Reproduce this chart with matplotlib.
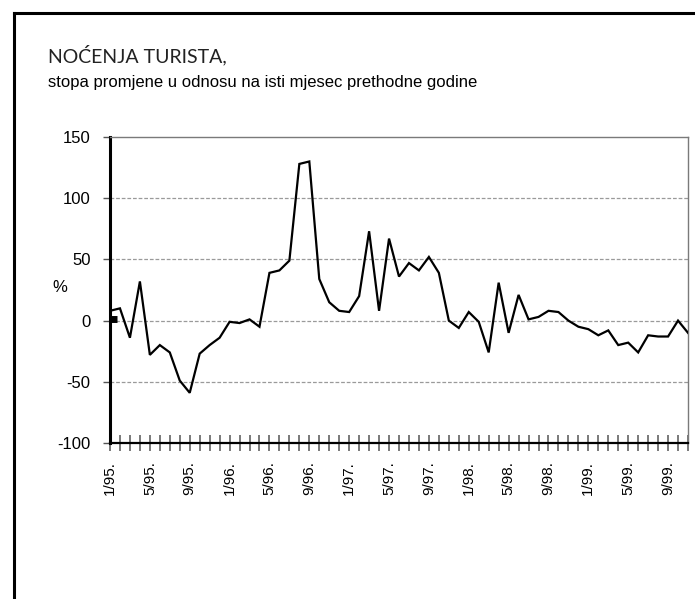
import matplotlib
matplotlib.use("Agg")
import matplotlib.pyplot as plt
from matplotlib.lines import Line2D

# --- data: monthly change vs same month of previous year, 1/95 .. 11/99 ----
months = [f"{m}/{y}." for y in range(95, 100) for m in range(1, 13)][:59]
values = [
    8, 10, -14, 32, -28, -20, -26, -49, -59, -27, -20, -14,
    -1, -2, 1, -5, 39, 41, 49, 128, 130, 34, 15, 8,
    7, 20, 73, 8, 67, 36, 47, 41, 52, 39, 0, -6,
    7, -1, -26, 31, -10, 21, 1, 3, 8, 7, 0, -5,
    -7, -12, -8, -20, -18, -26, -12, -13, -13, 0, -10,
]
label_every = 4
y_ticks = [-100, -50, 0, 50, 100, 150]
grid_levels = [-50, 0, 50, 100]

# small black block that sits on the zero line at the start of the series
blip_x = [0, 0.75]
blip_y = [1.5, 1.5]

title = "NOĆENJA TURISTA,"
subtitle = "stopa promjene u odnosu na isti mjesec prethodne godine"

plt.rcParams["font.family"] = ["Liberation Sans", "DejaVu Sans"]

fig = plt.figure(figsize=(6.95, 5.99), dpi=100)
ax = fig.add_axes([110 / 695, 1 - 443 / 599, 578 / 695, 306 / 599])

# grid lines (dashed grey) and the series
for g in grid_levels:
    ax.axhline(g, color="#9a9a9a", lw=0.9, ls=(0, (3, 1.5)), zorder=1)
x = list(range(len(values)))
ax.plot(x, values, color="black", lw=1.6, zorder=3, solid_joinstyle="miter")
ax.plot(blip_x, blip_y, color="black", lw=5, solid_capstyle="butt", zorder=3)

ax.set_xlim(0, len(values) - 1)
ax.set_ylim(-100, 150)
ax.set_yticks(y_ticks)
ax.set_yticklabels([str(v) for v in y_ticks], fontsize=12)
ax.tick_params(axis="y", length=5, width=1, pad=9, color="#555555")

ax.set_xticks(x)
ax.set_xticklabels([m if i % label_every == 0 else "" for i, m in enumerate(months)],
                   rotation=90, fontsize=11)
ax.tick_params(axis="x", direction="inout", length=12, width=1.1,
               color="#555555", pad=7)

for side in ("top", "right"):
    ax.spines[side].set_color("#7a7a7a")
    ax.spines[side].set_linewidth(1.0)
ax.spines["left"].set_linewidth(2.2)
ax.spines["bottom"].set_linewidth(1.6)

fig.text(52 / 695, 1 - 287 / 599, "%", fontsize=12, ha="left", va="center")

fig.text(48 / 695, 1 - 55 / 599, title, fontsize=14, family=["Lato", "DejaVu Sans"],
         ha="left", va="center", color="#222222")
fig.text(48 / 695, 1 - 82 / 599, subtitle, fontsize=12, ha="left", va="center")

# page frame: only the top and left edges are visible
fig.add_artist(Line2D([14 / 695, 14 / 695], [0, 1 - 13 / 599], color="black",
                      lw=2.2, transform=fig.transFigure))
fig.add_artist(Line2D([14 / 695, 1], [1 - 13 / 599, 1 - 13 / 599], color="black",
                      lw=2.2, transform=fig.transFigure))

fig.savefig("out.png", dpi=100)
